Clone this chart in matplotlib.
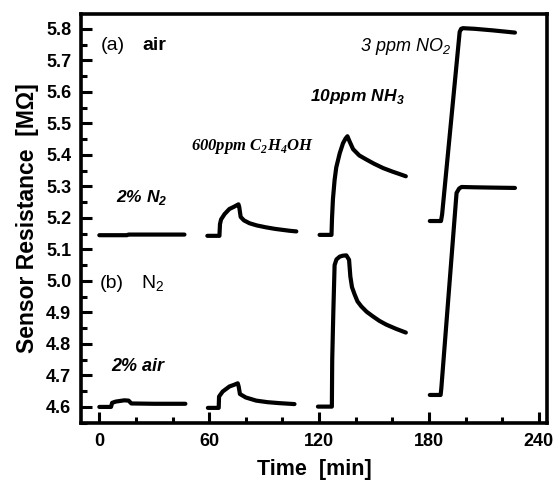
import matplotlib
matplotlib.use("Agg")
import matplotlib.pyplot as plt
from matplotlib.ticker import MultipleLocator, FormatStrFormatter

plt.rcParams['font.family'] = ['Liberation Sans', 'DejaVu Sans']

# ---- data: (a) in air ----
a_n2_t = [0, 15, 16, 46.5]
a_n2_r = [5.145, 5.145, 5.147, 5.147]

a_eth_t = [59, 65.6, 65.9, 66.5, 68.4, 71, 73.8, 76.0, 76.4, 77.2, 79, 82, 86, 91, 96, 100, 104, 107.6]
a_eth_r = [5.143, 5.143, 5.18, 5.195, 5.212, 5.228, 5.236, 5.243, 5.235, 5.203, 5.192, 5.183,
           5.176, 5.170, 5.165, 5.162, 5.159, 5.157]

a_nh3_t = [120.3, 126.8, 127.1, 127.6, 128.5, 129.4, 131.3, 133.1, 134.5, 135.5, 136.5, 138.6,
           142, 145.9, 150, 155, 160, 164, 167.4]
a_nh3_r = [5.146, 5.146, 5.20, 5.26, 5.32, 5.36, 5.405, 5.437, 5.452, 5.459, 5.445, 5.418,
           5.398, 5.385, 5.372, 5.358, 5.347, 5.339, 5.332]

a_no2_t = [180.5, 186.6, 187.2, 196.8, 197.6, 198.6, 205, 215, 227]
a_no2_r = [5.19, 5.19, 5.21, 5.79, 5.80, 5.802, 5.80, 5.795, 5.788]

# ---- data: (b) in N2 ----
b_air_t = [0, 6.4, 7.0, 9, 13.7, 16, 17.5, 30, 47]
b_air_r = [4.600, 4.600, 4.613, 4.617, 4.621, 4.620, 4.611, 4.610, 4.610]

b_eth_t = [59.3, 65.2, 65.4, 67.4, 71.1, 73.5, 75.6, 76.1, 76.8, 80, 85.7, 92, 98.4, 106.6]
b_eth_r = [4.597, 4.597, 4.633, 4.649, 4.665, 4.670, 4.675, 4.665, 4.641, 4.630, 4.620,
           4.615, 4.612, 4.609]

b_nh3_t = [119.4, 127.0, 127.2, 127.8, 128.5, 129.5, 131.3, 133, 134.9, 136.4, 137.1, 138,
           139.5, 141, 143.1, 146, 149.5, 153, 156.8, 162, 167.4]
b_nh3_r = [4.601, 4.601, 4.75, 4.90, 5.05, 5.068, 5.077, 5.080, 5.081, 5.067, 5.014, 4.98,
           4.956, 4.935, 4.919, 4.902, 4.887, 4.873, 4.861, 4.848, 4.836]

b_no2_t = [180.5, 186.4, 186.8, 195.1, 196.5, 197.8, 205, 215, 227]
b_no2_r = [4.638, 4.638, 4.66, 5.279, 5.293, 5.298, 5.297, 5.296, 5.295]

segments = [
    (a_n2_t, a_n2_r), (a_eth_t, a_eth_r), (a_nh3_t, a_nh3_r), (a_no2_t, a_no2_r),
    (b_air_t, b_air_r), (b_eth_t, b_eth_r), (b_nh3_t, b_nh3_r), (b_no2_t, b_no2_r),
]

x_ticks = [0, 60, 120, 180, 240]

fig = plt.figure(figsize=(5.54, 4.8), dpi=100)
ax = fig.add_axes([81 / 554, 57 / 480, 466 / 554, 409 / 480])

for t, r in segments:
    ax.plot(t, r, color='black', lw=3.0, solid_capstyle='round', solid_joinstyle='round')

ax.set_xlim(-10, 244.5)
ax.set_ylim(4.549, 5.847)
ax.set_xticks(x_ticks)
ax.xaxis.set_minor_locator(MultipleLocator(20))
ax.yaxis.set_major_locator(MultipleLocator(0.1))
ax.yaxis.set_minor_locator(MultipleLocator(0.05))
ax.yaxis.set_major_formatter(FormatStrFormatter('%.1f'))

for s in ax.spines.values():
    s.set_linewidth(2.6)
ax.tick_params(which='major', direction='in', length=8, width=2.2, pad=7,
               labelsize=13)
ax.tick_params(which='minor', direction='in', length=4.5, width=2.2)
for lab in ax.get_xticklabels() + ax.get_yticklabels():
    lab.set_fontweight('bold')

ax.set_xlabel('Time  [min]', fontsize=15.5, fontweight='bold', labelpad=7)
ax.set_ylabel('Sensor Resistance  [M\u03a9]', fontsize=16.5, fontweight='bold', labelpad=5)

# annotations
ax.text(1, 5.747, '(a)', fontsize=14, va='center', ha='left')
ax.text(23.5, 5.747, 'air', fontsize=14, fontweight='bold', va='center', ha='left')
ax.text(0, 4.991, '(b)', fontsize=14, va='center', ha='left')
ax.text(22.5, 4.991, 'N$_\\mathregular{2}$', fontsize=14, va='center', ha='left')

ax.text(9, 5.265, '2% N$_\\mathregular{2}$', fontsize=12.5, style='italic', fontweight='bold',
        va='center', ha='left')
ax.text(50, 5.425, '600ppm C$_\\mathregular{2}$H$_\\mathregular{4}$OH', fontsize=12,
        family='Liberation Serif', style='italic', fontweight='bold', va='center', ha='left')
ax.text(115, 5.586, '10ppm NH$_\\mathregular{3}$', fontsize=12.5, style='italic', fontweight='bold',
        va='center', ha='left')
ax.text(142.5, 5.744, '3 ppm NO$_\\mathregular{2}$', fontsize=13, style='italic',
        va='center', ha='left')
ax.text(6.5, 4.727, '2% air', fontsize=13, style='italic', fontweight='bold',
        va='center', ha='left')

fig.savefig('out.png', dpi=100)
